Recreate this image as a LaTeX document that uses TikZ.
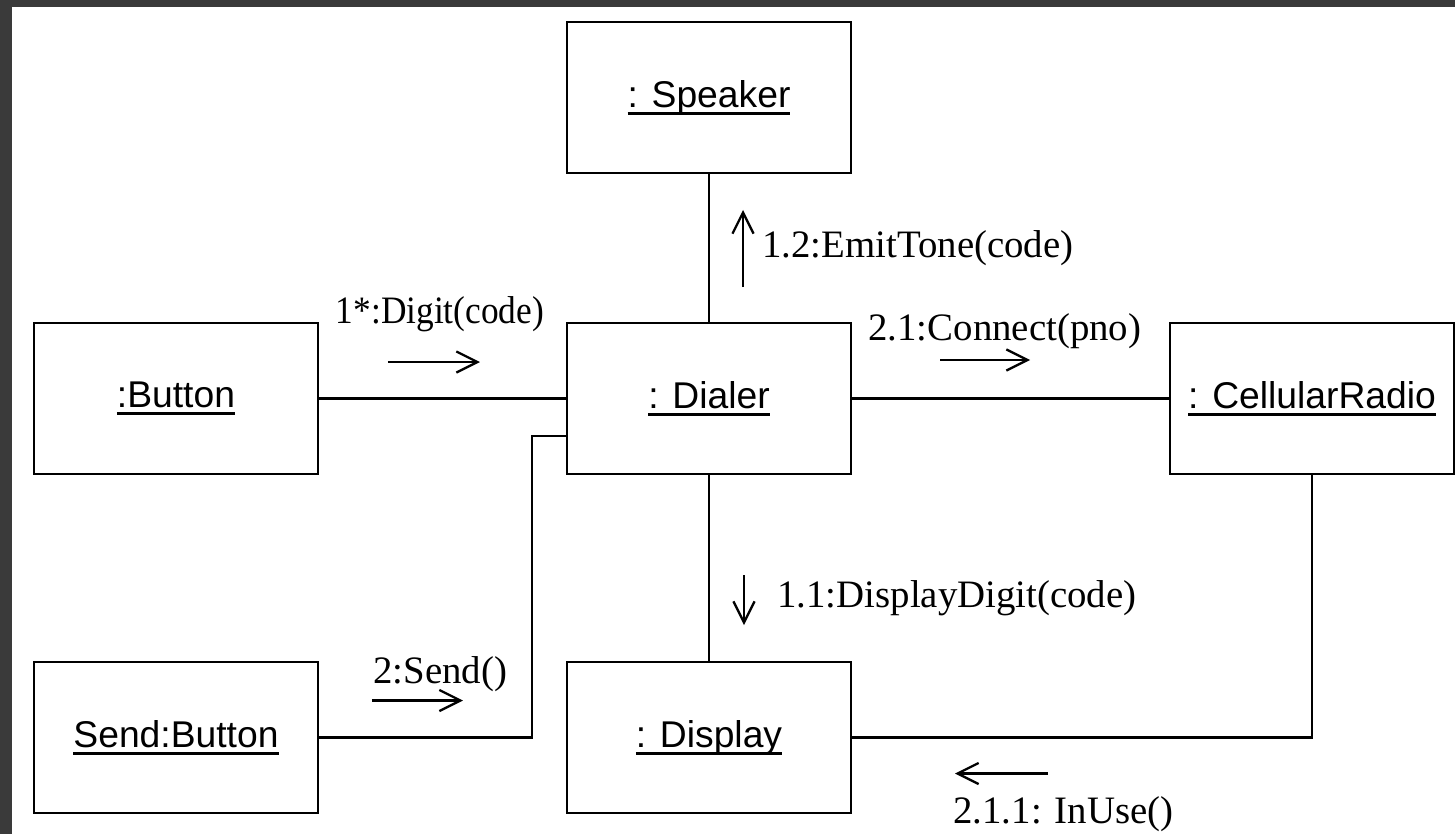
\documentclass[tikz,border=0pt]{standalone}
\usepackage{fontspec}
\usepackage{xcolor}
\usepackage{tikz}
\usetikzlibrary{arrows.meta}
\usetikzlibrary{positioning}
\newfontfamily\objfont{Liberation Sans}
\newfontfamily\msgfont{Liberation Serif}
\definecolor{framegray}{RGB}{58,58,58}
\newcommand{\objname}[1]{\setbox0\hbox{#1}\rlap{\rule[-4.3pt]{\wd0}{1.7pt}}\box0}
\tikzset{>={Straight Barb[length=12pt,width=12pt]}}
\tikzset{
  object/.style={draw, line width=1.6pt, minimum width=5.68cm, minimum height=3.02cm, outer sep=0pt, font=\objfont\fontsize{21.2}{24}\selectfont},
  link/.style={line width=1.6pt},
  msg/.style={->, line width=1.3pt},
  msglabel/.style={inner sep=0pt, font=\msgfont\fontsize{22.1}{26}\selectfont},
}

\begin{document}
\begin{tikzpicture}
            \fill[framegray] (-14.18,7.97) rectangle (14.92,-8.71);
            \fill[white] (-13.94,7.83) rectangle (14.92,-8.71);
            \useasboundingbox (-14.18,7.97) rectangle (14.92,-8.71);
            \node[object] (dialer) at (0,0) {\objname{: Dialer}};
            \node[object, above=3cm of dialer] (speaker) {\objname{: Speaker}};
            \node[object, left=4.98cm of dialer] (button) {\objname{:Button}};
            \node[object, right=6.38cm of dialer] (radio) {\objname{: CellularRadio}};
            \node[object, below=3.76cm of dialer] (display) {\objname{: Display}};
            \node[object, below=3.76cm of button] (send) {\objname{Send:Button}};
            \coordinate[below=0.75cm of dialer.west] (send-end);
            \coordinate[left=0.7cm of send-end] (send-corner);
            \draw[link] (speaker) -- (dialer);
            \draw[link] (button) -- (dialer);
            \draw[link] (dialer) -- (radio);
            \draw[link] (dialer) -- (display);
            \draw[link] (send) -| (send-corner) -- (send-end);
            \draw[link] (radio) |- (display);
            % messages
            \coordinate[above right=0.73cm and 1.4cm of button.east] (digit-start);
            \coordinate[above right=0.73cm and 3.24cm of button.east] (digit-end);
            \node[msglabel, anchor=base] (digit-label) at ([shift={(2.44cm,1.51cm)}]button.east) {\scalebox{0.91}[1]{1*:Digit(code)}};
            \draw[msg] (digit-start) -- (digit-end);
            \coordinate[above right=0.72cm and 0.68cm of dialer.north] (tone-start);
            \coordinate[above right=2.26cm and 0.68cm of dialer.north] (tone-end);
            \node[msglabel, anchor=base west] (tone-label) at ([shift={(1.06cm,1.3cm)}]dialer.north) {1.2:EmitTone(code)};
            \draw[msg] (tone-start) -- (tone-end);
            \coordinate[above right=0.77cm and 1.78cm of dialer.east] (connect-start);
            \coordinate[above right=0.77cm and 3.58cm of dialer.east] (connect-end);
            \node[msglabel, anchor=base west] (connect-label) at ([shift={(0.34cm,1.17cm)}]dialer.east) {2.1:Connect(pno)};
            \draw[msg] (connect-start) -- (connect-end);
            \coordinate[below right=2.02cm and 0.7cm of dialer.south] (show-start);
            \coordinate[below right=3.02cm and 0.7cm of dialer.south] (show-end);
            \node[msglabel, anchor=base west] (show-label) at ([shift={(1.36cm,-2.66cm)}]dialer.south) {1.1:DisplayDigit(code)};
            \draw[msg] (show-start) -- (show-end);
            \coordinate[above right=0.74cm and 1.08cm of send.east] (sendmsg-start);
            \coordinate[above right=0.74cm and 2.9cm of send.east] (sendmsg-end);
            \node[msglabel, anchor=base west] (sendmsg-label) at ([shift={(1.1cm,1.08cm)}]send.east) {2:Send()};
            \draw[msg] (sendmsg-start) -- (sendmsg-end);
            \coordinate[below right=0.72cm and 3.94cm of display.east] (inuse-start);
            \coordinate[below right=0.72cm and 2.08cm of display.east] (inuse-end);
            \node[msglabel, anchor=base west] (inuse-label) at ([shift={(2.04cm,-1.72cm)}]display.east) {2.1.1: InUse()};
            \draw[msg] (inuse-start) -- (inuse-end);
\end{tikzpicture}
\end{document}
